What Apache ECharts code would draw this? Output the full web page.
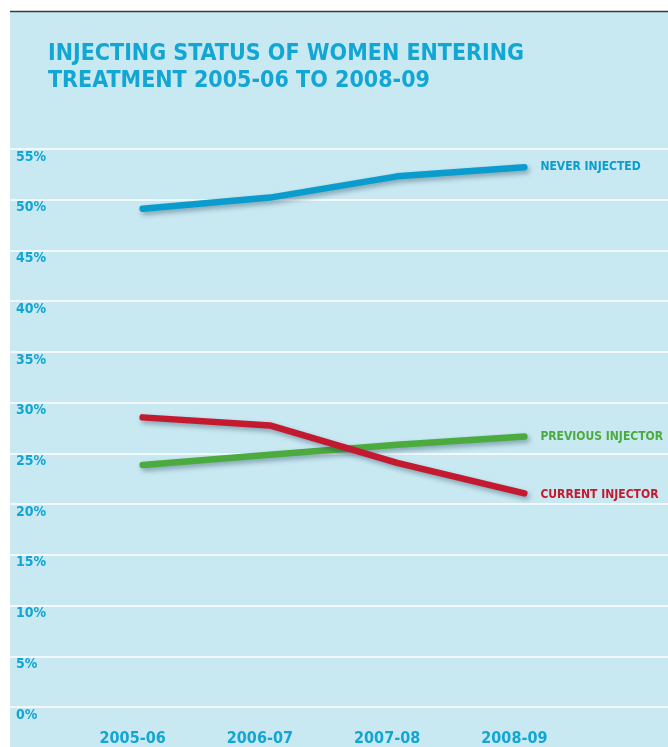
<!DOCTYPE html>
<html>
<head>
<meta charset="utf-8">
<script src="https://cdn.jsdelivr.net/npm/echarts@6/dist/echarts.min.js"></script>
<style>
html,body{margin:0;padding:0;background:#fff;}
#chart{width:668px;height:747px;}
</style>
</head>
<body>
<div id="chart"></div>
<script>
var categories = ['2005-06', '2006-07', '2007-08', '2008-09'];
var neverInjected = [49.1, 50.2, 52.3, 53.2];
var previousInjector = [23.8, 24.8, 25.8, 26.6];
var currentInjector = [28.5, 27.7, 24.0, 21.0];
var seriesNames = ['NEVER INJECTED', 'PREVIOUS INJECTOR', 'CURRENT INJECTOR'];
var seriesColors = ['#0a9ccc', '#4cab3e', '#c41a30'];
var yMin = 0, yMax = 55, yStep = 5;

var BG = '#c8e8f2';
var CYAN = '#12a6d4';
var COND = '"DejaVu Sans Condensed", "Liberation Sans Narrow", sans-serif';

var chart = echarts.init(document.getElementById('chart'), null, {renderer: 'canvas'});

function lineSeries(name, data, color, offset) {
  return {
    name: name,
    type: 'line',
    xAxisIndex: 1,
    yAxisIndex: 1,
    data: data,
    symbol: 'none',
    smooth: false,
    lineStyle: {
      color: color, width: 6.5, cap: 'round', join: 'round',
      shadowColor: 'rgba(0,40,60,0.35)', shadowBlur: 5, shadowOffsetX: 2, shadowOffsetY: 3
    },
    itemStyle: {color: color},
    endLabel: {
      show: true,
      formatter: function (p) { return p.seriesName; },
      color: color,
      fontFamily: COND,
      fontWeight: 'bold',
      fontSize: 12,
      distance: 16,
      offset: offset || [0, 0]
    },
    z: 3
  };
}

chart.setOption({
  backgroundColor: '#ffffff',
  animation: false,
  graphic: [
    {type: 'rect', shape: {x: 10, y: 12, width: 658, height: 735}, style: {fill: BG}, z: -10},
    {type: 'line', shape: {x1: 10, y1: 11.5, x2: 668, y2: 11.5}, style: {stroke: '#3a3a3a', lineWidth: 1.5}, z: -9}
  ],
  title: {
    text: 'INJECTING STATUS OF WOMEN ENTERING\nTREATMENT 2005-06 TO 2008-09',
    left: 43,
    top: 36,
    textStyle: {
      color: CYAN,
      fontFamily: COND,
      fontWeight: 'bold',
      fontSize: 23,
      lineHeight: 27
    }
  },
  grid: [
    {left: 10, right: 0, top: 149, bottom: 40},
    {left: 79, right: 80, top: 149, bottom: 40}
  ],
  xAxis: [
    {type: 'value', gridIndex: 0, show: false, min: 0, max: 1},
    {
      type: 'category', gridIndex: 1, data: categories, boundaryGap: true,
      axisLine: {show: false}, axisTick: {show: false}, splitLine: {show: false},
      axisLabel: {
        color: CYAN, fontFamily: COND, fontWeight: 'bold', fontSize: 16,
        margin: 25, padding: [0, 20, 0, 0]
      }
    }
  ],
  yAxis: [
    {
      type: 'value', gridIndex: 0, min: yMin, max: yMax, interval: yStep,
      axisLine: {show: false}, axisTick: {show: false},
      splitLine: {show: true, lineStyle: {color: '#ffffff', width: 1.5}},
      axisLabel: {
        inside: true, margin: 6, formatter: '{value}%',
        color: CYAN, fontFamily: COND, fontWeight: 'bold', fontSize: 14,
        verticalAlign: 'top', lineHeight: 14, padding: [1, 0, 0, 0]
      }
    },
    {
      type: 'value', gridIndex: 1, min: yMin, max: yMax, interval: yStep, show: false,
      splitLine: {show: false}
    }
  ],
  series: [
    lineSeries(seriesNames[0], neverInjected, seriesColors[0]),
    lineSeries(seriesNames[1], previousInjector, seriesColors[1]),
    lineSeries(seriesNames[2], currentInjector, seriesColors[2], [0, 2])
  ]
});
</script>
</body>
</html>
